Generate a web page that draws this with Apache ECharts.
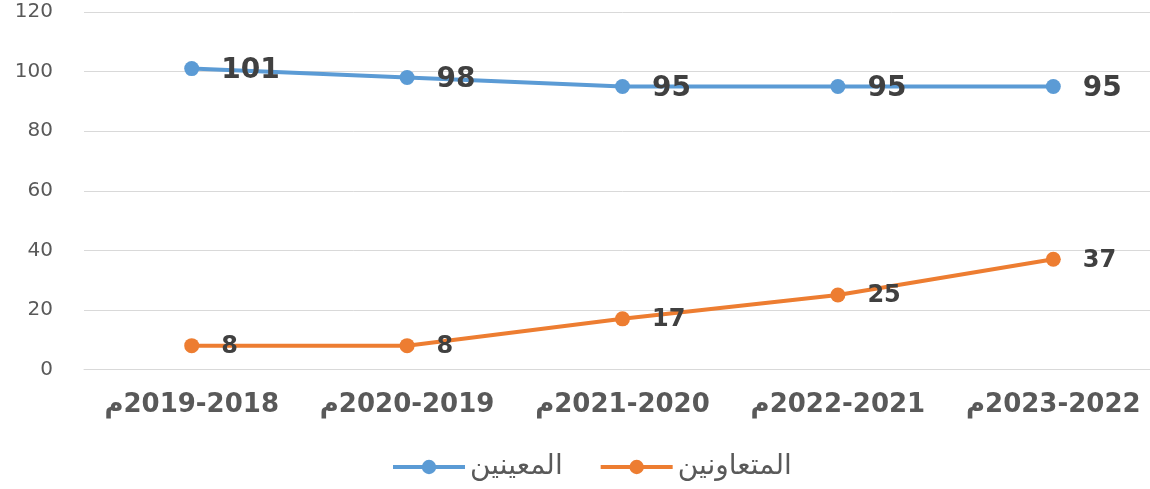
<!DOCTYPE html>
<html>
<head>
<meta charset="utf-8">
<script src="https://cdn.jsdelivr.net/npm/echarts@6/dist/echarts.min.js"></script>
<style>
html,body{margin:0;padding:0;background:#fff;overflow:hidden;}
#chart{width:1161px;height:489px;}
</style>
</head>
<body>
<div id="chart"></div>
<script>
const categories = ["م\u200E2019-2018", "م\u200E2020-2019", "م\u200E2021-2020", "م\u200E2022-2021", "م\u200E2023-2022"];
const seriesNames = ["المعينين", "المتعاونين"];
const appointed = [101, 98, 95, 95, 95];
const collaborators = [8, 8, 17, 25, 37];
const yTicks = { min: 0, max: 120, interval: 20 };

const chart = echarts.init(document.getElementById('chart'), null, { renderer: 'canvas' });
chart.setOption({
  animation: false,
  backgroundColor: '#ffffff',
  grid: { left: 84, right: 0, top: 12, bottom: 119.5, containLabel: false },
  legend: {
    left: 386, top: 448,
    itemWidth: 72, itemHeight: 18, itemGap: 36,
    lineStyle: { width: 4 },
    textStyle: { fontFamily: 'DejaVu Sans', fontSize: 28, color: '#595959' },
    data: seriesNames
  },
  xAxis: {
    type: 'category',
    data: categories,
    boundaryGap: true,
    axisLine: { show: true, lineStyle: { color: '#D9D9D9', width: 1 } },
    axisTick: { show: false },
    axisLabel: { interval: 0, margin: 23, fontFamily: 'DejaVu Sans', fontWeight: 'bold', fontSize: 26, color: '#595959' }
  },
  yAxis: {
    type: 'value',
    min: yTicks.min, max: yTicks.max, interval: yTicks.interval,
    axisLine: { show: false },
    axisTick: { show: false },
    splitLine: { lineStyle: { color: '#D9D9D9', width: 1 } },
    axisLabel: { margin: 31, fontFamily: 'DejaVu Sans', fontSize: 20, color: '#595959' }
  },
  series: [
    {
      name: seriesNames[0], type: 'line', data: appointed,
      color: '#5B9BD5',
      lineStyle: { width: 4, color: '#5B9BD5' },
      symbol: 'circle', symbolSize: 15,
      itemStyle: { color: '#5B9BD5' },
      label: { show: true, position: 'right', distance: 22, offset: [0, 2], fontFamily: 'DejaVu Sans', fontWeight: 'bold', fontSize: 28, color: '#404040' }
    },
    {
      name: seriesNames[1], type: 'line', data: collaborators,
      color: '#ED7D31',
      lineStyle: { width: 4, color: '#ED7D31' },
      symbol: 'circle', symbolSize: 15,
      itemStyle: { color: '#ED7D31' },
      label: { show: true, position: 'right', distance: 22, offset: [0, 1], fontFamily: 'DejaVu Sans', fontWeight: 'bold', fontSize: 24, color: '#404040' }
    }
  ]
});
</script>
</body>
</html>
